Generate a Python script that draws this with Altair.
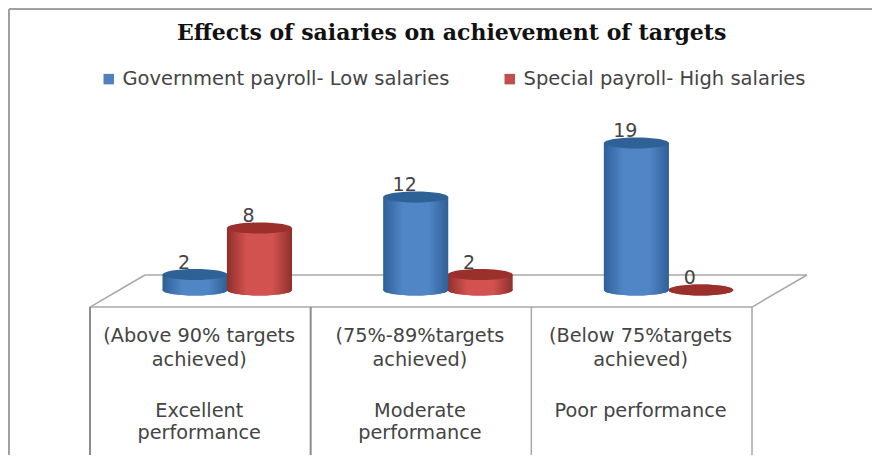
import altair as alt
import pandas as pd

# ---- values
categories = [0, 1, 2]
government = [2, 12, 19]
special = [8, 2, 0]
series_names = ["Government payroll- Low salaries", "Special payroll- High salaries"]
label_lines = [
    ["(Above 90% targets", "achieved)", "Excellent", "performance"],
    ["(75%-89%targets", "achieved)", "Moderate", "performance"],
    ["(Below 75%targets", "achieved)", "Poor performance", ""],
]
title_text = "Effects of saiaries on achievement of targets"

# ---- scales: x in table cells, y in data units
UNIT_X = 220.67
UNIT_Y = 7.74
x_scale = alt.Scale(domain=[(8 - 90) / UNIT_X, (872 - 90) / UNIT_X], nice=False, zero=False)
y_scale = alt.Scale(domain=[(290 - 455) / UNIT_Y, (290 - 60) / UNIT_Y], nice=False, zero=False)
color_scale = alt.Scale(domain=series_names, range=["#4f81bd", "#c0504d"])

BAR_W = 0.295
OFFSET = {series_names[0]: 0.476, series_names[1]: 0.768}
FRONT, BACK = -2.2, 1.94
BOTTOM = (290 - 455) / UNIT_Y
FRAME_LEFT = (9 - 90) / UNIT_X
FRAME_RIGHT = (872 - 90) / UNIT_X
FRAME_TOP = (290 - 9) / UNIT_Y

rows = []
for name, values in zip(series_names, [government, special]):
    for c, v in zip(categories, values):
        xc = c + OFFSET[name]
        rows.append(dict(series=name, cat=c, value=v, base=0, xc=xc,
                         x0=xc - BAR_W / 2, x1=xc + BAR_W / 2))
bars = pd.DataFrame(rows)

floor = pd.DataFrame([
    dict(x=0, y=FRONT, x2=3, y2=FRONT),
    dict(x=0, y=FRONT, x2=0.249, y2=BACK),
    dict(x=0.249, y=BACK, x2=3.249, y2=BACK),
    dict(x=3, y=FRONT, x2=3.249, y2=BACK),
    dict(x=2, y=FRONT, x2=2, y2=BOTTOM),
    dict(x=3, y=FRONT, x2=3, y2=BOTTOM),
])
dividers = pd.DataFrame([
    dict(x=0, y=FRONT, x2=0, y2=BOTTOM),
    dict(x=1, y=FRONT, x2=1, y2=BOTTOM),
])
frame = pd.DataFrame([
    dict(x=FRAME_LEFT, y=FRAME_TOP, x2=FRAME_RIGHT, y2=FRAME_TOP),
    dict(x=FRAME_LEFT, y=FRAME_TOP, x2=FRAME_LEFT, y2=BOTTOM),
])

line_y = [-5.94, -9.04, -15.63, -18.47]
cat_text = pd.DataFrame([
    dict(x=i + 0.495, y=line_y[j], t=t)
    for i, lines in enumerate(label_lines) for j, t in enumerate(lines) if t
])

k = 0.5523
ry = 0.17
ELLIPSE = (f"M-1,0C-1,{-ry*k},{-k},{-ry},0,{-ry}C{k},{-ry},1,{-ry*k},1,0"
           f"C1,{ry*k},{k},{ry},0,{ry}C{-k},{ry},-1,{ry*k},-1,0Z")
SIZE = 65 ** 2


def grad(edge, mid):
    return alt.LinearGradient(
        gradient="linear", x1=0, x2=1, y1=0, y2=0,
        stops=[alt.GradientStop(offset=0, color=edge),
               alt.GradientStop(offset=0.3, color=mid),
               alt.GradientStop(offset=0.7, color=mid),
               alt.GradientStop(offset=1, color=edge)])


BODY = {series_names[0]: grad("#2f5f96", "#5086c6"), series_names[1]: grad("#8f2f2c", "#d2524f")}
TOP = {series_names[0]: "#2e6195", series_names[1]: "#9a2f2c"}


def cylinder(df, name):
    d = df[df.series == name]
    xe = alt.X("xc:Q", scale=x_scale, axis=None)
    base_y = alt.Y("base:Q", scale=y_scale, axis=None)
    bottom = alt.Chart(d).mark_point(shape=ELLIPSE, filled=True, opacity=1, size=SIZE).encode(
        x=xe,
        y=base_y,
        color=alt.Color("series:N", scale=color_scale, legend=alt.Legend(
            orient="none", legendX=91, legendY=9, title=None, direction="horizontal", columns=2,
            symbolType="square", symbolSize=110, symbolStrokeWidth=0, symbolOpacity=1,
            labelFont="DejaVu Sans", labelFontSize=19.5, labelColor="#444444", labelLimit=500,
            columnPadding=50, symbolOffset=0, labelOffset=4)),
    )
    shade = alt.Chart(d[d.value > 0]).mark_point(shape=ELLIPSE, filled=True, opacity=1, size=SIZE,
                                                 fill=BODY[name]).encode(x=xe, y=base_y)
    body = alt.Chart(d[d.value > 0]).mark_rect(color=BODY[name]).encode(
        x=alt.X("x0:Q", scale=x_scale, axis=None), x2="x1:Q",
        y=base_y, y2="value:Q",
    )
    top = alt.Chart(d).mark_point(shape=ELLIPSE, filled=True, opacity=1, size=SIZE, color=TOP[name]).encode(
        x=xe, y=alt.Y("value:Q", scale=y_scale, axis=None),
    )
    return [bottom, shade, body, top]


def rules(df, color, width):
    return alt.Chart(df).mark_rule(color=color, strokeWidth=width).encode(
        x=alt.X("x:Q", scale=x_scale, axis=None), x2="x2:Q",
        y=alt.Y("y:Q", scale=y_scale, axis=None), y2="y2:Q",
    )


labels = alt.Chart(bars).mark_text(font="DejaVu Sans", fontSize=19, color="#444444", dx=-11, dy=-12,
                                   baseline="middle").encode(
    x=alt.X("xc:Q", scale=x_scale, axis=None),
    y=alt.Y("value:Q", scale=y_scale, axis=None),
    text="value:Q",
)
cat_labels = alt.Chart(cat_text).mark_text(font="DejaVu Sans", fontSize=19.3, color="#444444",
                                           baseline="middle").encode(
    x=alt.X("x:Q", scale=x_scale, axis=None),
    y=alt.Y("y:Q", scale=y_scale, axis=None),
    text="t:N",
)

red_back = bars[bars.cat > 0]
red_front = bars[bars.cat == 0]
layers = [rules(frame, "#a0a0a0", 2), rules(floor, "#a8a8a8", 1.5), rules(dividers, "#8c8c8c", 2)]
layers += cylinder(red_back, series_names[1])
layers += cylinder(bars, series_names[0])
layers += cylinder(red_front, series_names[1])
layers += [labels, cat_labels]

chart = alt.layer(*layers).properties(
    width=864, height=395,
    title=alt.TitleParams(title_text, anchor="start", dx=169, offset=-37,
                          font="DejaVu Serif", fontWeight="bold", fontSize=22, color="#111111"),
    autosize=alt.AutoSizeParams(type="none"),
    padding={"left": 0, "top": 52, "right": 0, "bottom": 0},
    background="white",
).configure_view(stroke=None)

chart.save("out.html", embed_options={"renderer": "svg", "actions": False})
